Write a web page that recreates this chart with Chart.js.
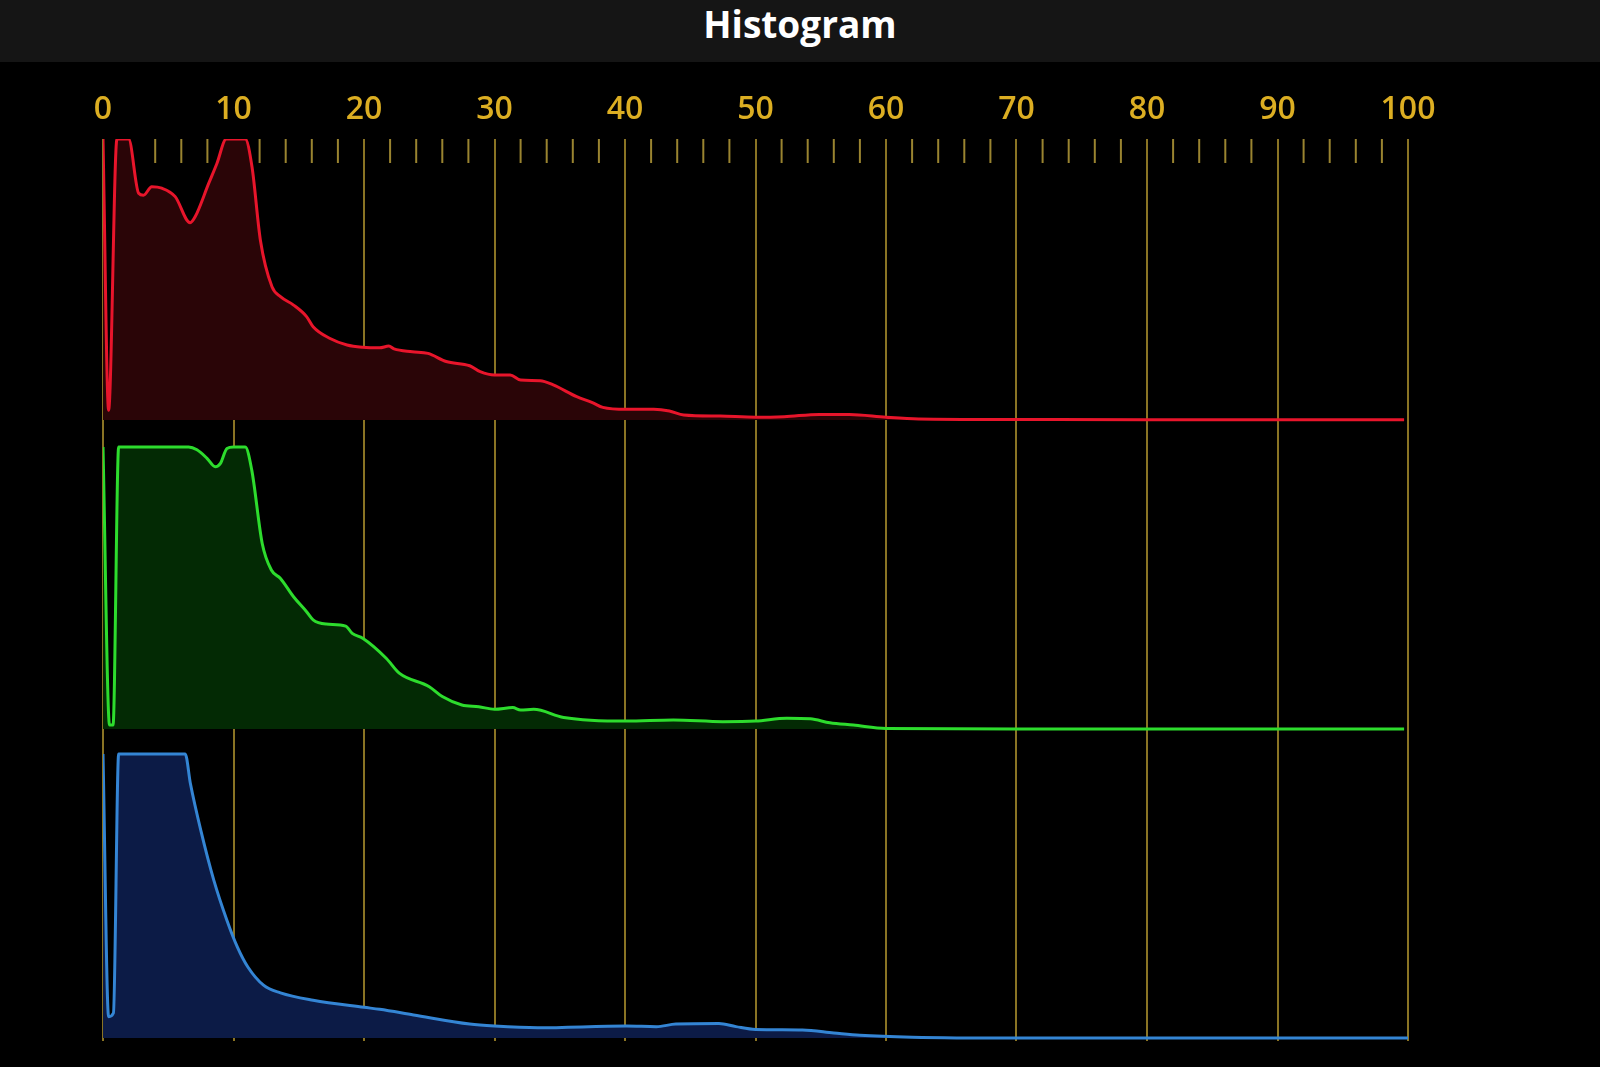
<!DOCTYPE html>
<html>
<head>
<meta charset="utf-8">
<title>Histogram</title>
<script src="https://cdn.jsdelivr.net/npm/chart.js@4.4.1/dist/chart.umd.min.js"></script>
<style>
  html, body { margin: 0; padding: 0; background: #000; }
  body { width: 1600px; height: 1067px; position: relative; overflow: hidden; }
  .header {
    position: absolute; left: 0; top: 0; width: 1600px; height: 62px;
    background: #151515; z-index: 2;
    color: #fff; font-family: "Open Sans", sans-serif; font-weight: 700;
    font-size: 37px; line-height: 48px; text-align: center;
  }
  .wrap { position: absolute; left: 0; top: 0; width: 1600px; height: 1067px; }
</style>
</head>
<body>
<div class="header">Histogram</div>
<div class="wrap"><canvas id="hist"></canvas></div>
<script>
// x axis range (ticks every 2, labelled every 10)
const xTicks = [0, 100];

// red channel (% of panel height)
const redX = [0, 0.43, 1.07, 1.96, 2.73, 3.1, 3.74, 4.5, 5.53, 6.68, 7.07, 8.1, 8.73, 9.45, 10.9, 11.42, 12.06, 12.95, 13.6, 14.6, 15.6, 16.1, 17.4, 18.7, 19.9, 21.2, 21.9, 22.3, 23.7, 24.9, 26.3, 28.1, 28.9, 30, 31.2, 32, 33.5, 34.5, 36.3, 37.5, 38.3, 40.1, 42.2, 43.4, 44.5, 47.3, 50, 52.2, 54.9, 57.2, 60, 62.5, 70, 80, 90, 99.7];
const redY = [100, 3.5, 100, 100, 80.7, 80, 83, 82.5, 79.5, 70.2, 72.4, 84.2, 91.3, 100, 100, 90, 64, 47.4, 43.9, 40.9, 36.8, 33.2, 29, 26.7, 25.9, 25.7, 26.3, 25.3, 24.3, 23.7, 20.8, 19.3, 17.2, 16, 16, 14.2, 14, 12.5, 8.3, 6.2, 4.5, 3.8, 3.8, 3.2, 1.8, 1.4, 1, 1.2, 2, 2, 1, 0.4, 0.2, 0.1, 0.1, 0.1];

// green channel
const greenX = [0, 0.5, 0.77, 1.2, 6.56, 7.2, 7.97, 8.6, 9, 9.5, 10, 10.9, 11.4, 12.2, 12.9, 13.6, 14.6, 15.6, 16.1, 17.1, 18.6, 19.1, 19.9, 21.7, 22.7, 25, 26, 27.5, 28.8, 30, 31.4, 32, 33, 35.3, 40.1, 43.7, 47.5, 50, 52.4, 54.2, 55.7, 57.5, 60, 70, 80, 90, 99.7];
const greenY = [100, 1.4, 1.4, 100, 100, 99, 96, 93, 94.2, 99.5, 100, 100, 91.8, 65.8, 56.4, 53.4, 46.9, 41.6, 38.7, 37.2, 36.5, 33.9, 32.2, 25.1, 19.8, 15, 11.5, 8.5, 7.9, 7, 7.6, 6.7, 7, 4.1, 2.8, 3.2, 2.6, 2.8, 3.8, 3.6, 2.2, 1.4, 0.2, 0, 0, 0, 0];

// blue channel
const blueX = [0, 0.43, 0.8, 1.2, 6.3, 6.7, 7.5, 8.5, 9.5, 10.3, 11.1, 12.3, 13.6, 16.1, 20, 21.2, 23.8, 28.1, 30, 33.3, 40.1, 42.4, 43.9, 47.2, 48.5, 50, 53.6, 56, 58, 62, 70, 80, 90, 100];
const blueY = [100, 7.5, 8.8, 100, 100, 89.5, 73, 55.4, 41.4, 32, 25, 18.6, 15.9, 13.3, 10.8, 10.1, 8.1, 4.9, 4.2, 3.6, 4.2, 4, 4.9, 5.1, 4, 3, 2.8, 1.8, 1, 0.3, 0, 0, 0, 0];

const GOLD = "#dcae22";
const GRID = "#8a7424";
const MINOR = "#9a8430";

// plot area and panel bands, page pixels
const AREA_TOP = 139, AREA_BOTTOM = 1041;
const bands = {
  yRed:   { top: 139, bottom: 420 },
  yGreen: { top: 447, bottom: 729 },
  yBlue:  { top: 754, bottom: 1038 },
};

// every y scale spans the whole plot area; pick min/max so 0..100 lands in its band
function bandScale(b) {
  const per = (b.bottom - b.top) / 100;
  return {
    display: false,
    min: -(AREA_BOTTOM - b.bottom) / per,
    max: 100 + (b.top - AREA_TOP) / per,
  };
}

const pts = (xs, ys) => xs.map((x, i) => ({ x: x, y: ys[i] }));

// short ticks every 2 units, hanging down from the top of the plot
const minorTicks = {
  id: "minorTicks",
  beforeDatasetsDraw(chart) {
    const sx = chart.scales.x;
    const top = chart.chartArea.top;
    const ctx = chart.ctx;
    ctx.save();
    ctx.strokeStyle = MINOR;
    ctx.lineWidth = 2;
    sx.ticks.forEach((t) => {
      if (t.value % 10 === 0) return;
      const px = sx.getPixelForValue(t.value);
      ctx.beginPath();
      ctx.moveTo(px, top);
      ctx.lineTo(px, top + 24);
      ctx.stroke();
    });
    ctx.restore();
  },
};

const line = (label, data, axis, color, fillColor) => ({
  label, data, yAxisID: axis,
  borderColor: color, backgroundColor: fillColor,
  borderWidth: 3, pointRadius: 0, fill: "origin",
  cubicInterpolationMode: "monotone",
});

new Chart(document.getElementById("hist"), {
  type: "line",
  data: {
    datasets: [
      line("Red", pts(redX, redY), "yRed", "#e8152b", "#2a0507"),
      line("Green", pts(greenX, greenY), "yGreen", "#2ddc2d", "#032a04"),
      line("Blue", pts(blueX, blueY), "yBlue", "#3485d4", "#0c1b46"),
    ],
  },
  options: {
    responsive: true,
    maintainAspectRatio: false,
    animation: false,
    layout: { padding: { left: 103, right: 192, top: 0, bottom: 1067 - AREA_BOTTOM } },
    plugins: { legend: { display: false }, tooltip: { enabled: false } },
    scales: {
      x: {
        type: "linear",
        position: "top",
        min: xTicks[0],
        max: xTicks[1],
        afterFit: (scale) => { scale.height = AREA_TOP; },
        border: { display: false },
        grid: {
          drawTicks: false,
          lineWidth: 2,
          color: (c) => (c.tick && c.tick.value % 10 === 0 ? GRID : "rgba(0,0,0,0)"),
        },
        ticks: {
          stepSize: 2,
          autoSkip: false,
          maxRotation: 0,
          padding: 10,
          color: GOLD,
          font: { family: "Open Sans", size: 32, weight: "600" },
          callback: (v) => (v % 10 === 0 ? v : ""),
        },
      },
      yRed: bandScale(bands.yRed),
      yGreen: bandScale(bands.yGreen),
      yBlue: bandScale(bands.yBlue),
    },
  },
  plugins: [minorTicks],
});
</script>
</body>
</html>
